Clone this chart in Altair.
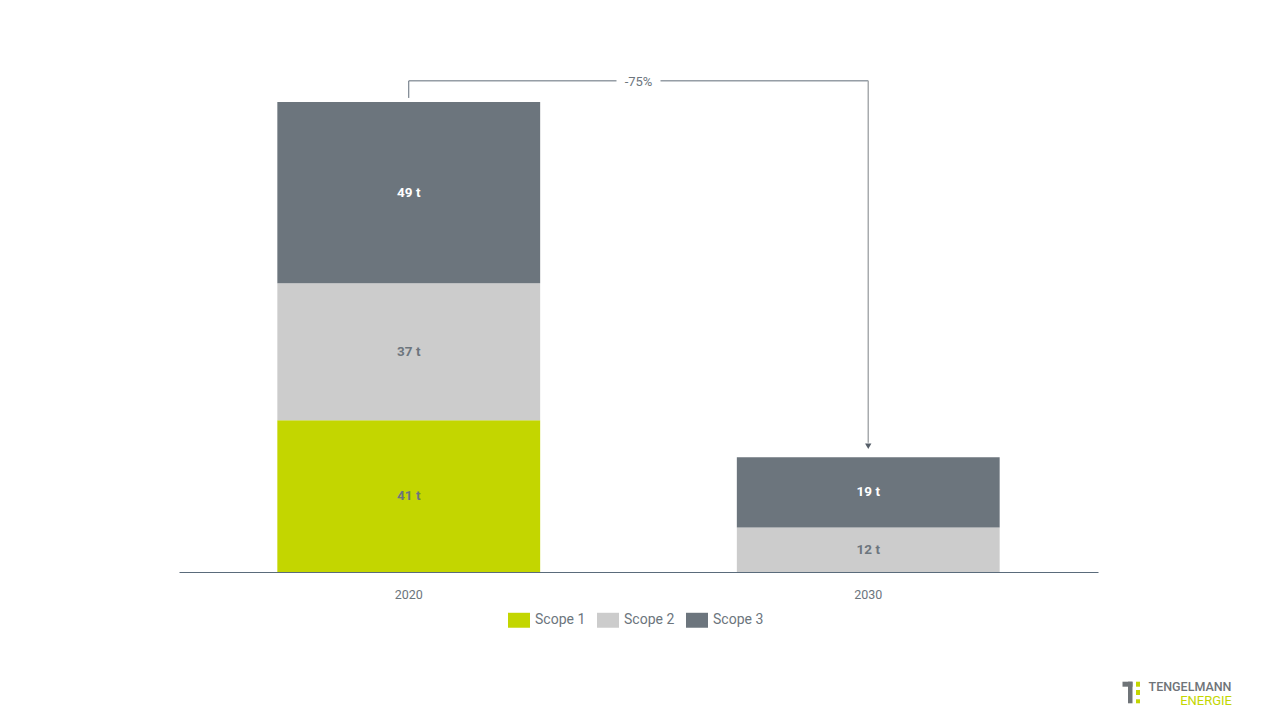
import altair as alt
import pandas as pd

# ---- data ----
years = ["2020", "2020", "2020", "2030", "2030"]
scopes = ["Scope 1", "Scope 2", "Scope 3", "Scope 2", "Scope 3"]
values = [41, 37, 49, 12, 19]
value_labels = ["41 t", "37 t", "49 t", "12 t", "19 t"]
scope_order = ["Scope 1", "Scope 2", "Scope 3"]
scope_colors = ["#c3d600", "#cccccc", "#6c757d"]
label_colors = ["#6c757d", "#6c757d", "#ffffff"]
change_label = "-75%"
brand_top = "TENGELMANN"
brand_bottom = "ENERGIE"

GRAY = "#6c757d"
FONT = "Roboto"

df = pd.DataFrame({"year": years, "scope": scopes, "value": values, "label": value_labels})
df["order"] = df["scope"].map({s: i for i, s in enumerate(scope_order)})
df["tcolor"] = df["scope"].map(dict(zip(scope_order, label_colors)))

totals = df.groupby("year")["value"].sum()
t_first, t_last = totals.iloc[0], totals.iloc[-1]
y_top = max(totals) * 1.045
W, H = 919, 512
ymax = 138.35

x_enc = alt.X(
    "year:N",
    scale=alt.Scale(paddingInner=0.428, paddingOuter=0.214),
    axis=alt.Axis(title=None, labelAngle=0, ticks=False, domainColor="#5a6b7b",
                  domainWidth=1, labelColor=GRAY, labelFontSize=12.5, labelFont=FONT,
                  labelPadding=16, grid=False),
)
y_scale = alt.Scale(domain=[0, ymax])

rect_path = "M-1,-0.68H1V0.68H-1Z"

bars = alt.Chart(df).mark_bar().encode(
    x=x_enc,
    y=alt.Y("value:Q", stack="zero", scale=y_scale, axis=None),
    color=alt.Color(
        "scope:N",
        scale=alt.Scale(domain=scope_order, range=scope_colors),
        legend=alt.Legend(title=None, orient="none", direction="horizontal",
                          legendX=329, legendY=549, symbolType=rect_path,
                          symbolSize=484, symbolStrokeWidth=0, symbolOpacity=1,
                          labelFontSize=14, labelColor=GRAY, labelFont=FONT,
                          labelOffset=5, columnPadding=11, padding=0),
    ),
    order=alt.Order("order:Q"),
)

texts = alt.Chart(df).transform_stack(
    stack="value", groupby=["year"], sort=[alt.SortField("order")], as_=["y0", "y1"]
).transform_calculate(mid="(datum.y0 + datum.y1) / 2").mark_text(
    font=FONT, fontSize=13.5, fontWeight="bold"
).encode(
    x=x_enc,
    y=alt.Y("mid:Q", scale=y_scale),
    text="label:N",
    color=alt.Color("tcolor:N", scale=None, legend=None),
)

# bracket annotation
left_df = pd.DataFrame({"year": [years[0]], "y": [t_first + 1.1], "y2": [y_top]})
horiz_df = pd.DataFrame({"year": [years[0]], "year2": [years[-1]], "y": [y_top]})
right_df = pd.DataFrame({"year": [years[-1]], "y": [y_top], "y2": [t_last + 3.9]})
arrow_df = pd.DataFrame({"year": [years[-1]], "y": [t_last + 3.0]})
lab_df = pd.DataFrame({"year": [years[0]], "y": [y_top], "label": [change_label]})

left = alt.Chart(left_df).mark_rule(color="#5f6b78", strokeWidth=1).encode(
    x=x_enc, y=alt.Y("y:Q", scale=y_scale), y2="y2:Q")
horiz = alt.Chart(horiz_df).mark_rule(color="#5f6b78", strokeWidth=1).encode(
    x=x_enc, x2="year2:N", y=alt.Y("y:Q", scale=y_scale))
right = alt.Chart(right_df).mark_rule(color="#a8abae", strokeWidth=1.5).encode(
    x=x_enc, y=alt.Y("y:Q", scale=y_scale), y2="y2:Q")
arrow = alt.Chart(arrow_df).mark_point(shape="triangle-down", filled=True, size=40,
                                       color="#555e68", opacity=1).encode(
    x=x_enc, y=alt.Y("y:Q", scale=y_scale))
lab_bg = alt.Chart(lab_df).mark_point(shape="M-1,-0.3H1V0.3H-1Z", filled=True, size=44 * 44,
                                      color="white", opacity=1, xOffset=W / 4).encode(
    x=x_enc, y=alt.Y("y:Q", scale=y_scale))
lab = alt.Chart(lab_df).mark_text(font=FONT, fontSize=13, color=GRAY, xOffset=W / 4,
                                  yOffset=1).encode(
    x=x_enc, y=alt.Y("y:Q", scale=y_scale), text="label:N")

# brand mark
logo_df = pd.DataFrame({"a": [0]})
logo_gray1 = alt.Chart(logo_df).mark_rect(color="#6f7478").encode(
    x=alt.value(943.5), x2=alt.value(953.5), y=alt.value(621.7), y2=alt.value(626.7))
logo_gray2 = alt.Chart(logo_df).mark_rect(color="#6f7478").encode(
    x=alt.value(949), x2=alt.value(953.5), y=alt.value(621.7), y2=alt.value(643.3))
logo_g1 = alt.Chart(logo_df).mark_rect(color="#c3d600").encode(
    x=alt.value(957), x2=alt.value(961), y=alt.value(621.7), y2=alt.value(626.7))
logo_g2 = alt.Chart(logo_df).mark_rect(color="#c3d600").encode(
    x=alt.value(957), x2=alt.value(961), y=alt.value(630), y2=alt.value(635))
logo_g3 = alt.Chart(logo_df).mark_rect(color="#c3d600").encode(
    x=alt.value(957), x2=alt.value(961), y=alt.value(639.3), y2=alt.value(643.3))
brand1 = alt.Chart(pd.DataFrame({"t": [brand_top]})).mark_text(
    font=FONT, fontSize=12.5, fontWeight=500, color="#6f7478", align="right", baseline="alphabetic"
).encode(x=alt.value(1052.5), y=alt.value(631.3), text="t:N")
brand2 = alt.Chart(pd.DataFrame({"t": [brand_bottom]})).mark_text(
    font=FONT, fontSize=13, color="#c3d600", align="right", baseline="alphabetic"
).encode(x=alt.value(1053), y=alt.value(644.5), text="t:N")

chart = alt.layer(
    bars, texts, left, horiz, right, arrow, lab_bg, lab,
    logo_gray1, logo_gray2, logo_g1, logo_g2, logo_g3, brand1, brand2,
).properties(
    width=W, height=H,
    autosize=alt.AutoSizeParams(type="none"),
    padding={"left": 171, "top": 52, "right": 174, "bottom": 140},
    background="white",
).configure_view(stroke=None)

chart.save("out.html", embed_options={"renderer": "svg", "actions": False})
